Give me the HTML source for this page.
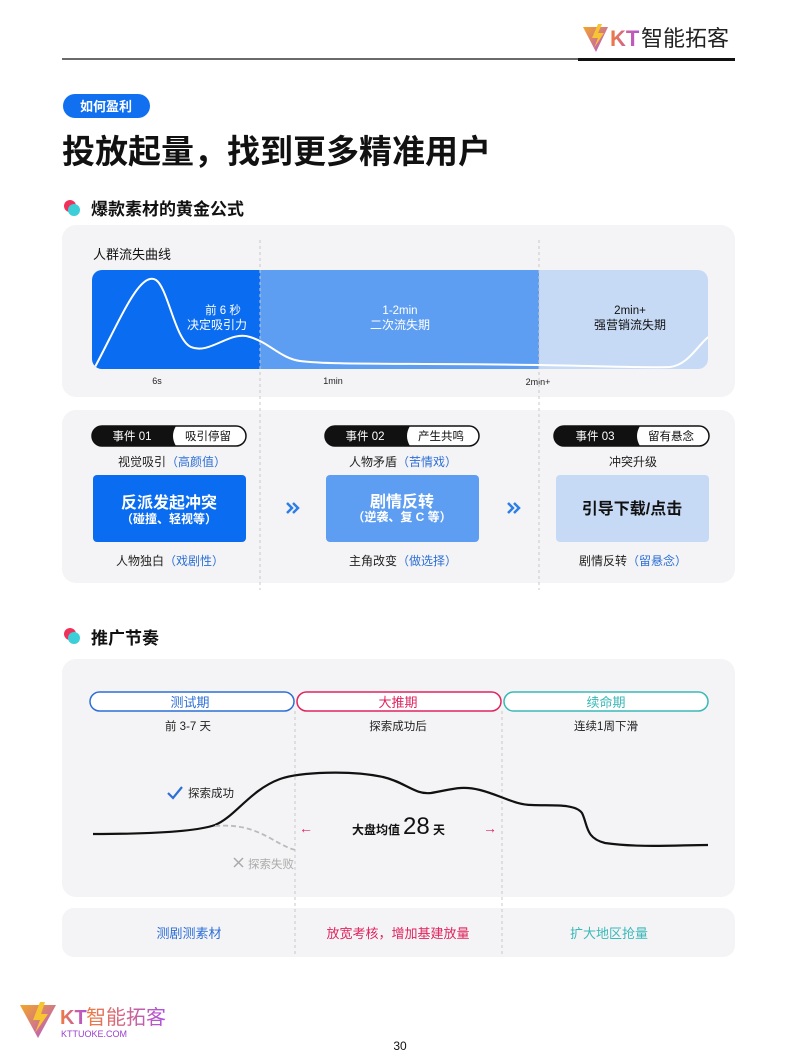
<!DOCTYPE html>
<html><head><meta charset="utf-8"><style>
html,body{margin:0;padding:0;background:#fff;}
svg{display:block;font-family:"Liberation Sans","Noto Sans CJK SC",sans-serif;}
</style></head><body>
<svg width="800" height="1064" viewBox="0 0 800 1064" xmlns="http://www.w3.org/2000/svg">
<defs>
<linearGradient id="lg" x1="0" y1="0" x2="1" y2="1"><stop offset="0" stop-color="#f5a623"/><stop offset="1" stop-color="#b04fe0"/></linearGradient>
<linearGradient id="lt" x1="0" y1="0" x2="1" y2="0"><stop offset="0" stop-color="#f07c3c"/><stop offset="1" stop-color="#b04fe0"/></linearGradient>
<clipPath id="cc"><rect x="92" y="270" width="616" height="99" rx="10"/></clipPath>
</defs>
<!-- header -->
<line x1="62" y1="59" x2="735" y2="59" stroke="#111" stroke-width="1.2"/>
<rect x="578" y="58" width="157" height="3" fill="#111"/>
<path d="M583 27 L608 27 L596 52 Z" fill="url(#lg)"/>
<path d="M598 24 L592 38 L598 38 L594 48 L604 33 L598 33 L602 24Z" fill="#f7c531"/>
<text x="610" y="46" font-size="22" fill="url(#lt)" font-weight="bold">KT</text>
<text x="641" y="46" font-size="22" fill="#222">智能拓客</text>
<!-- pill + title -->
<rect x="63" y="94" width="87" height="24" rx="12" fill="#1070f0"/>
<text x="106" y="111" font-size="13" fill="#fff" text-anchor="middle" font-weight="bold">如何盈利</text>
<text x="62" y="163" font-size="33" font-weight="bold" fill="#111">投放起量，找到更多精准用户</text>
<!-- section 1 -->
<circle cx="70" cy="206" r="6" fill="#f0325a"/><circle cx="74" cy="210" r="6" fill="#3ccfd8"/>
<text x="91" y="215" font-size="17" font-weight="bold" fill="#111">爆款素材的黄金公式</text>
<rect x="62" y="225" width="673" height="172" rx="14" fill="#f4f4f6"/>
<text x="93" y="259" font-size="13" fill="#111">人群流失曲线</text>
<g clip-path="url(#cc)">
<rect x="92" y="270" width="168" height="99" fill="#0a6cf0"/>
<rect x="260" y="270" width="279" height="99" fill="#5e9ef2"/>
<rect x="539" y="270" width="169" height="99" fill="#c6daf6"/>
<path d="M95 367 C120 320,140 270,156 280 C168 288,175 340,191 347 C210 355,230 330,250 337 C270 343,280 358,300 361 C330 365,400 363,540 365 C600 366,640 368,670 367 C690 365,700 340,712 335" fill="none" stroke="#fff" stroke-width="2"/>
</g>
<text x="223" y="314" font-size="11.5" fill="#fff" text-anchor="middle">前 6 秒</text>
<text x="217" y="329" font-size="12" fill="#fff" text-anchor="middle">决定吸引力</text>
<text x="400" y="314" font-size="11.5" fill="#fff" text-anchor="middle">1-2min</text>
<text x="400" y="329" font-size="12" fill="#fff" text-anchor="middle">二次流失期</text>
<text x="630" y="314" font-size="11.5" fill="#111" text-anchor="middle">2min+</text>
<text x="630" y="329" font-size="12" fill="#111" text-anchor="middle">强营销流失期</text>
<text x="157" y="384" font-size="9" fill="#222" text-anchor="middle">6s</text>
<text x="333" y="384" font-size="9" fill="#222" text-anchor="middle">1min</text>
<text x="538" y="385" font-size="9" fill="#222" text-anchor="middle">2min+</text>
<rect x="62" y="410" width="673" height="173" rx="14" fill="#f4f4f6"/>
<line x1="260" y1="240" x2="260" y2="590" stroke="#c8c8c8" stroke-dasharray="3,3"/>
<line x1="539" y1="240" x2="539" y2="590" stroke="#c8c8c8" stroke-dasharray="3,3"/>
<g font-size="11.5">
<rect x="92" y="426" width="154" height="20" rx="10" fill="#fff" stroke="#111" stroke-width="1.5"/>
<path d="M102 426 H176 Q170 436 176 446 H102 A10 10 0 0 1 102 426Z" fill="#111"/>
<text x="132" y="440" fill="#fff" text-anchor="middle">事件 01</text>
<text x="208" y="440" fill="#111" text-anchor="middle">吸引停留</text>
<rect x="325" y="426" width="154" height="20" rx="10" fill="#fff" stroke="#111" stroke-width="1.5"/>
<path d="M335 426 H410 Q404 436 410 446 H335 A10 10 0 0 1 335 426Z" fill="#111"/>
<text x="365" y="440" fill="#fff" text-anchor="middle">事件 02</text>
<text x="441" y="440" fill="#111" text-anchor="middle">产生共鸣</text>
<rect x="554" y="426" width="155" height="20" rx="10" fill="#fff" stroke="#111" stroke-width="1.5"/>
<path d="M564 426 H640 Q634 436 640 446 H564 A10 10 0 0 1 564 426Z" fill="#111"/>
<text x="595" y="440" fill="#fff" text-anchor="middle">事件 03</text>
<text x="671" y="440" fill="#111" text-anchor="middle">留有悬念</text>
</g>
<g font-size="12" text-anchor="middle">
<text x="172" y="466" fill="#222">视觉吸引<tspan fill="#2d6fd6">（高颜值）</tspan></text>
<text x="403" y="466" fill="#222">人物矛盾<tspan fill="#2d6fd6">（苦情戏）</tspan></text>
<text x="633" y="466" fill="#222">冲突升级</text>
<text x="170" y="565" fill="#222">人物独白<tspan fill="#2d6fd6">（戏剧性）</tspan></text>
<text x="403" y="565" fill="#222">主角改变<tspan fill="#2d6fd6">（做选择）</tspan></text>
<text x="633" y="565" fill="#222">剧情反转<tspan fill="#2d6fd6">（留悬念）</tspan></text>
</g>
<rect x="93" y="475" width="153" height="67" rx="4" fill="#0a6cf0"/>
<rect x="326" y="475" width="153" height="67" rx="4" fill="#5e9ef2"/>
<rect x="556" y="475" width="153" height="67" rx="4" fill="#c6daf6"/>
<text x="169" y="508" font-size="16" font-weight="bold" fill="#fff" text-anchor="middle">反派发起冲突</text>
<text x="169" y="523" font-size="12" font-weight="bold" fill="#fff" text-anchor="middle">（碰撞、轻视等）</text>
<text x="402" y="507" font-size="16" font-weight="bold" fill="#fff" text-anchor="middle">剧情反转</text>
<text x="402" y="521" font-size="12" font-weight="bold" fill="#fff" text-anchor="middle">（逆袭、复 C 等）</text>
<text x="632" y="514" font-size="16" font-weight="bold" fill="#111" text-anchor="middle">引导下载/点击</text>
<g fill="none" stroke="#2d7ee6" stroke-width="2.5">
<path d="M287 503 L292 508 L287 513 M293 503 L298 508 L293 513"/>
<path d="M508 503 L513 508 L508 513 M514 503 L519 508 L514 513"/>
</g>
<!-- section 2 -->
<circle cx="70" cy="634" r="6" fill="#f0325a"/><circle cx="74" cy="638" r="6" fill="#3ccfd8"/>
<text x="91" y="644" font-size="17" font-weight="bold" fill="#111">推广节奏</text>
<rect x="62" y="659" width="673" height="238" rx="14" fill="#f4f4f6"/>
<rect x="62" y="908" width="673" height="49" rx="12" fill="#f4f4f6"/>
<line x1="295" y1="711" x2="295" y2="957" stroke="#c8c8c8" stroke-dasharray="3,3"/>
<line x1="502" y1="711" x2="502" y2="957" stroke="#c8c8c8" stroke-dasharray="3,3"/>
<rect x="90" y="692" width="204" height="19" rx="9.5" fill="#fff" stroke="#2d6fd6" stroke-width="1.5"/>
<rect x="297" y="692" width="204" height="19" rx="9.5" fill="#fff" stroke="#e0245e" stroke-width="1.5"/>
<rect x="504" y="692" width="204" height="19" rx="9.5" fill="#fff" stroke="#3bb8b8" stroke-width="1.5"/>
<g font-size="13" text-anchor="middle">
<text x="190" y="707" fill="#2d6fd6">测试期</text>
<text x="398" y="707" fill="#e0245e">大推期</text>
<text x="606" y="707" fill="#3bb8b8">续命期</text>
</g>
<g font-size="11.5" text-anchor="middle" fill="#222">
<text x="188" y="730">前 3-7 天</text>
<text x="398" y="730">探索成功后</text>
<text x="606" y="730">连续1周下滑</text>
</g>
<path d="M93 834 C150 834,195 832,215 825 C235 817,250 790,280 779 C300 772,350 770,383 777 C405 782,415 795,431 793 C450 790,460 785,480 790 C500 795,515 805,532 805 C550 806,575 803,582 813 C588 825,585 838,605 843 C640 848,680 845,708 845" fill="none" stroke="#111" stroke-width="2.2"/>
<path d="M215 826 C240 824,255 830,270 838 C282 845,290 849,296 850" fill="none" stroke="#bbb" stroke-width="1.8" stroke-dasharray="5,3"/>
<path d="M168 793 L173 798 L182 787" fill="none" stroke="#2d6fd6" stroke-width="2.2"/>
<text x="188" y="797" font-size="11.5" fill="#222">探索成功</text>
<path d="M234 858 L243 867 M243 858 L234 867" stroke="#aaa" stroke-width="1.5"/>
<text x="248" y="868" font-size="11.5" fill="#aaa">探索失败</text>
<text x="306" y="833" font-size="14" fill="#e0245e" text-anchor="middle">←</text>
<text x="490" y="833" font-size="14" fill="#e0245e" text-anchor="middle">→</text>
<text x="352" y="834" font-size="12" font-weight="bold" fill="#111">大盘均值</text>
<text x="403" y="834" font-size="24" fill="#111">28</text>
<text x="433" y="834" font-size="12" font-weight="bold" fill="#111">天</text>
<g font-size="13" text-anchor="middle">
<text x="189" y="938" fill="#2d6fd6">测剧测素材</text>
<text x="398" y="938" fill="#e0245e">放宽考核，增加基建放量</text>
<text x="609" y="938" fill="#3bb8b8">扩大地区抢量</text>
</g>
<!-- footer -->
<path d="M20 1005 L56 1005 L38 1038 Z" fill="url(#lg)"/>
<path d="M40 1002 L33 1020 L40 1020 L35 1033 L48 1014 L41 1014 L45 1002Z" fill="#f7c531"/>
<text x="60" y="1024" font-size="20" fill="url(#lt)" font-weight="bold">KT</text>
<text x="86" y="1024" font-size="20" fill="url(#lt)">智能拓客</text>
<text x="61" y="1037" font-size="9" fill="#9b3fd0">KTTUOKE.COM</text>
<text x="400" y="1050" font-size="12" fill="#111" text-anchor="middle">30</text>
</svg>
</body></html>
